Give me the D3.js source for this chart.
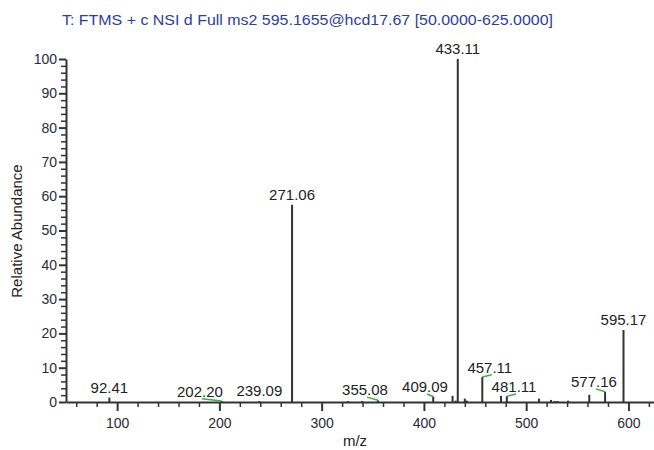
<!DOCTYPE html>
<html lang="en">
	<head>
		<meta charset="utf-8">
		<title>D3: MS2 spectrum</title>
		<script type="text/javascript" src="https://cdn.jsdelivr.net/npm/d3@7"></script>
		<style type="text/css">
			body {
				margin: 0;
				background: #fff;
			}
			text {
				font-family: Arial, "Liberation Sans", sans-serif;
			}
			.tick text {
				font-size: 14px;
				fill: #2a2a3a;
			}
			.peak {
				stroke: #333;
				stroke-width: 2px;
			}
			.plabel {
				font-size: 15px;
				fill: #222;
				text-anchor: middle;
			}
			.conn {
				stroke: #3cb043;
				stroke-width: 1.5px;
				fill: none;
			}
		</style>
	</head>
	<body>
		<script type="text/javascript">

			//Settings
			var w = 654
			var h = 450

			//Data
			var title = "T: FTMS + c NSI d Full ms2 595.1655@hcd17.67 [50.0000-625.0000]"

			// labelled peaks
			var peakMz  = [92.41, 202.20, 239.09, 271.06, 355.08, 409.09, 433.11, 457.11, 481.11, 577.16, 595.17]
			var peakInt = [1.3,   0.3,    0.3,    57.5,   0.5,    1.6,    100,    7.3,    1.7,    3.0,    21.0]
			var peakText = ["92.41", "202.20", "239.09", "271.06", "355.08", "409.09", "433.11", "457.11", "481.11", "577.16", "595.17"]
			// where the label sits (m/z, intensity of the baseline); null = on top of the peak
			var labelMz  = [null, 181.0, null, null, 342.4, 401.1, null, 464.4, 488.1, 566.3, null]
			var labelInt = [null, 1.5,   null, null, 2.0,   2.9,   null, 8.5,   2.9,   4.4,   null]

			// small unlabelled peaks
			var minorMz  = [326, 339.5, 428, 431, 440, 442, 475.4, 512.6, 524.3, 528, 530.7, 541, 561.7]
			var minorInt = [0.3, 0.3,   1.8, 0.4, 1.0, 0.4, 1.8,   1.0,   0.6,   0.3, 0.3,   0.4, 2.1]

			var xTicks = [100, 200, 300, 400, 500, 600]
			var yTicks = [0, 10, 20, 30, 40, 50, 60, 70, 80, 90, 100]

			var svg = d3.select("body")
				.append("svg")
				.attr("width", w)
				.attr("height", h)

			var x = d3.scaleLinear().domain([50, 625]).range([66, 654])
			var y = d3.scaleLinear().domain([0, 100]).range([402, 59])

			// title
			svg.append("text")
				.attr("x", 62)
				.attr("y", 25)
				.attr("textLength", 491)
				.attr("lengthAdjust", "spacingAndGlyphs")
				.style("font-size", "14px")
				.style("fill", "#2f3da0")
				.text(title)

			// minor ticks
			var xMinor = d3.range(60, 625, 20).filter(function(v) { return v % 100 != 0 })
			var yMinor = d3.range(0, 101, 2).filter(function(v) { return v % 10 != 0 })

			svg.append("g")
				.attr("transform", "translate(0,402)")
				.call(d3.axisBottom(x).tickValues(xMinor).tickSize(5).tickFormat(""))
				.call(function(g) { g.select(".domain").remove() })
				.selectAll("line").attr("stroke", "#333").attr("stroke-width", 1.5)

			svg.append("g")
				.attr("transform", "translate(66,0)")
				.call(d3.axisLeft(y).tickValues(yMinor).tickSize(5).tickFormat(""))
				.call(function(g) { g.select(".domain").remove() })
				.selectAll("line").attr("stroke", "#333").attr("stroke-width", 1.5)

			// major axes
			var xAxis = svg.append("g")
				.attr("transform", "translate(0,402)")
				.call(d3.axisBottom(x).tickValues(xTicks).tickSize(9).tickSizeOuter(0).tickPadding(5))
			xAxis.select(".domain").attr("stroke", "#333").attr("stroke-width", 2)
			xAxis.selectAll(".tick line").attr("stroke", "#333").attr("stroke-width", 2)
			xAxis.selectAll(".tick text").style("font-size", "14px").attr("dy", "0.85em")

			var yAxis = svg.append("g")
				.attr("transform", "translate(66,0)")
				.call(d3.axisLeft(y).tickValues(yTicks).tickSize(7).tickSizeOuter(0).tickPadding(2))
			yAxis.select(".domain").attr("stroke", "#333").attr("stroke-width", 2)
			yAxis.selectAll(".tick line").attr("stroke", "#333").attr("stroke-width", 2)
			yAxis.selectAll(".tick text").style("font-size", "14px")

			// axis titles
			svg.append("text")
				.attr("transform", "translate(22,231) rotate(-90)")
				.attr("text-anchor", "middle")
				.style("font-size", "15px")
				.style("fill", "#222")
				.text("Relative Abundance")

			svg.append("text")
				.attr("x", 355)
				.attr("y", 446)
				.attr("text-anchor", "middle")
				.style("font-size", "15px")
				.style("fill", "#222")
				.text("m/z")

			// peaks
			var minor = minorMz.map(function(m, i) { return { mz: m, v: minorInt[i] } })
			svg.selectAll("line.minor")
				.data(minor)
				.enter()
				.append("line")
				.attr("class", "peak minor")
				.attr("x1", function(d) { return x(d.mz) })
				.attr("x2", function(d) { return x(d.mz) })
				.attr("y1", y(0))
				.attr("y2", function(d) { return y(d.v) })

			var peaks = peakMz.map(function(m, i) {
				return { mz: m, v: peakInt[i], text: peakText[i], lm: labelMz[i], li: labelInt[i] }
			})

			svg.selectAll("line.main")
				.data(peaks)
				.enter()
				.append("line")
				.attr("class", "peak main")
				.attr("x1", function(d) { return x(d.mz) })
				.attr("x2", function(d) { return x(d.mz) })
				.attr("y1", y(0))
				.attr("y2", function(d) { return y(d.v) })

			// connectors for shifted labels
			svg.selectAll("path.conn")
				.data(peaks.filter(function(d) { return d.lm != null }))
				.enter()
				.append("path")
				.attr("class", "conn")
				.attr("d", function(d) {
					var lx = x(d.lm) + 2, ly = y(d.li) + 2
					return "M" + lx + "," + ly + "L" + x(d.mz) + "," + y(d.v)
				})

			svg.selectAll("text.plabel")
				.data(peaks)
				.enter()
				.append("text")
				.attr("class", "plabel")
				.attr("x", function(d) { return d.lm != null ? x(d.lm) : x(d.mz) })
				.attr("y", function(d) { return d.lm != null ? y(d.li) : y(d.v) - 5 })
				.text(function(d) { return d.text })

		</script>
	</body>
</html>
